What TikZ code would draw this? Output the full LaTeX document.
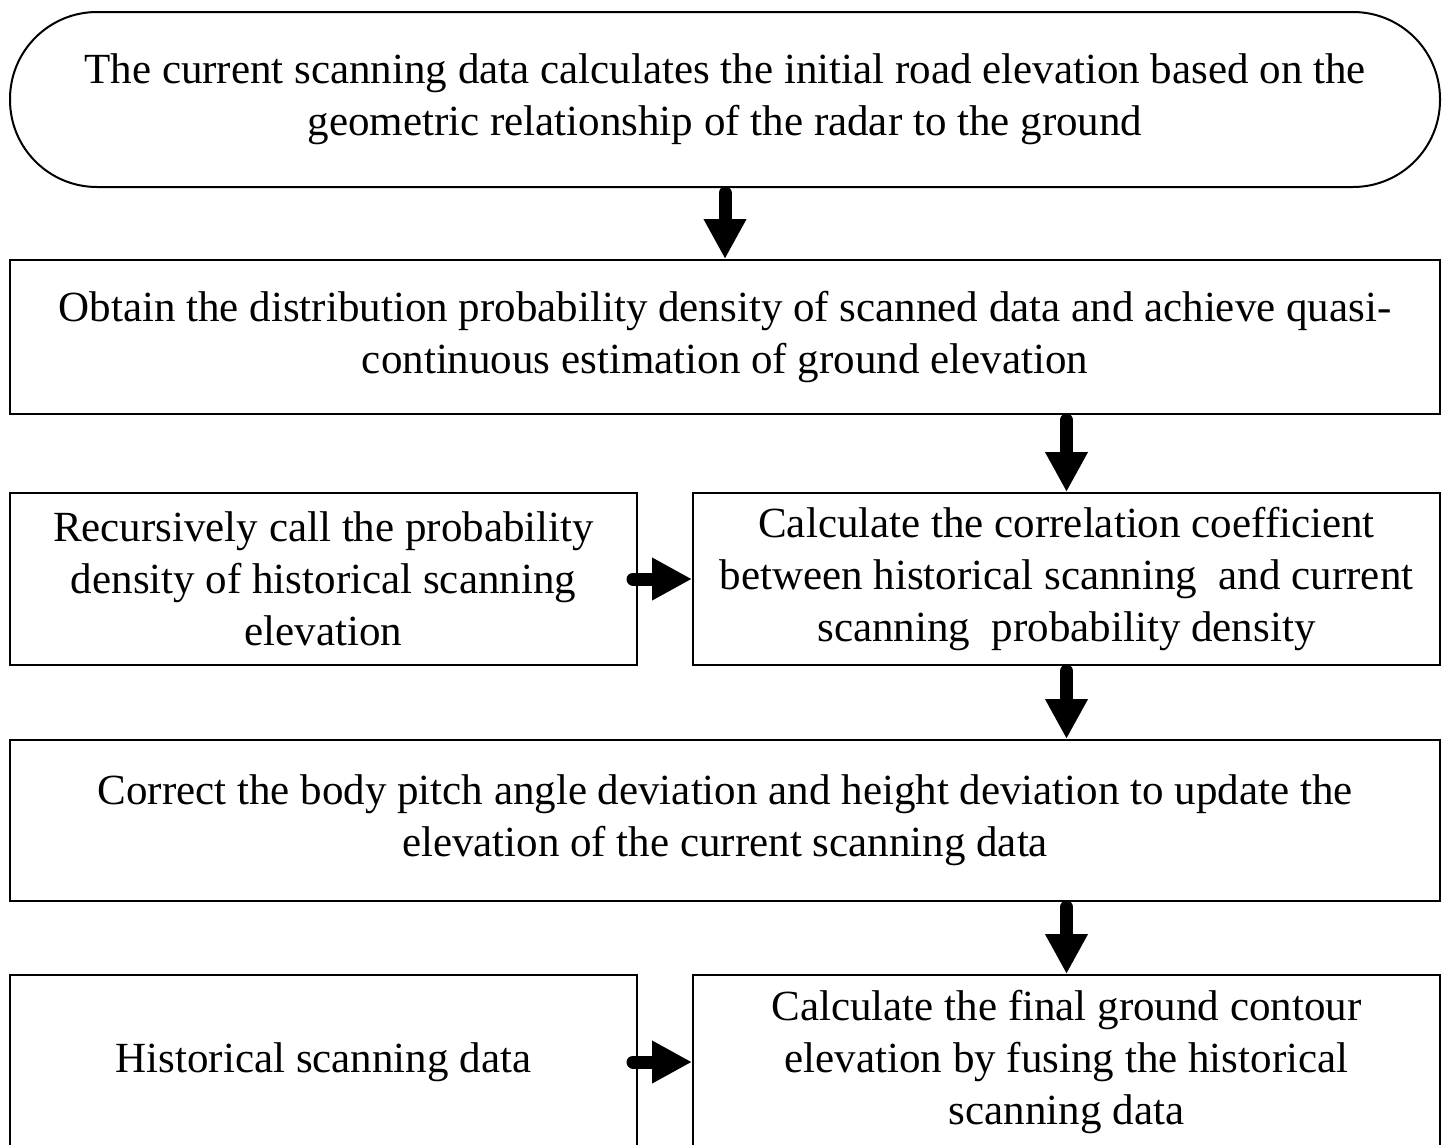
\documentclass[tikz,border=0pt]{standalone}
\usepackage{fontspec}
\setmainfont{Liberation Serif}
\usetikzlibrary{arrows.meta}
\begin{document}
\begin{tikzpicture}[x=1pt,y=-1pt,
  box/.style={draw=black,line width=2pt,inner sep=0pt,align=center,
    font=\fontsize{43}{52}\selectfont},
  flow/.style={line width=13pt,line cap=round,-{Triangle[width=40pt,length=40pt]}}]
\clip (0,0) rectangle (1445,1144);
\useasboundingbox (0,0) rectangle (1445,1144);
\node[box,rounded corners=87pt,minimum width=1430pt,minimum height=175pt] (start) at (725,99.5)
  {The current scanning data calculates the initial road elevation based on the\\geometric relationship of the radar to the ground};
\node[box,minimum width=1430pt,minimum height=154pt] (dist) at (725,337)
  {Obtain the distribution probability density of scanned data and achieve quasi-\\continuous estimation of ground elevation};
\node[box,minimum width=627pt,minimum height=172pt] (rec) at (323.5,579)
  {Recursively call the probability\\density of historical scanning\\elevation};
\node[box,minimum width=747pt,minimum height=172pt] (corr) at (1066.5,579)
  {Calculate the correlation coefficient\\between historical scanning\ \ and current\\scanning\ \ probability density};
\node[box,minimum width=1430pt,minimum height=161pt] (fix) at (725,820.5)
  {Correct the body pitch angle deviation and height deviation to update the\\elevation of the current scanning data};
\node[box,minimum width=627pt,minimum height=174pt] (hist) at (323.5,1062)
  {Historical scanning data};
\node[box,minimum width=747pt,minimum height=174pt] (final) at (1066.5,1062)
  {Calculate the final ground contour\\elevation by fusing the historical\\scanning data};
\draw[flow] ([yshift=-5pt]start.south) -- (dist.north);
\draw[flow] ([yshift=-5pt]dist.south -| corr.north) -- (corr.north);
\draw[flow] ([xshift=-5pt]rec.east) -- (corr.west);
\draw[flow] ([yshift=-5pt]corr.south) -- (fix.north -| corr.south);
\draw[flow] ([yshift=-5pt]fix.south -| final.north) -- (final.north);
\draw[flow] ([xshift=-5pt]hist.east) -- (final.west);
\end{tikzpicture}
\end{document}
